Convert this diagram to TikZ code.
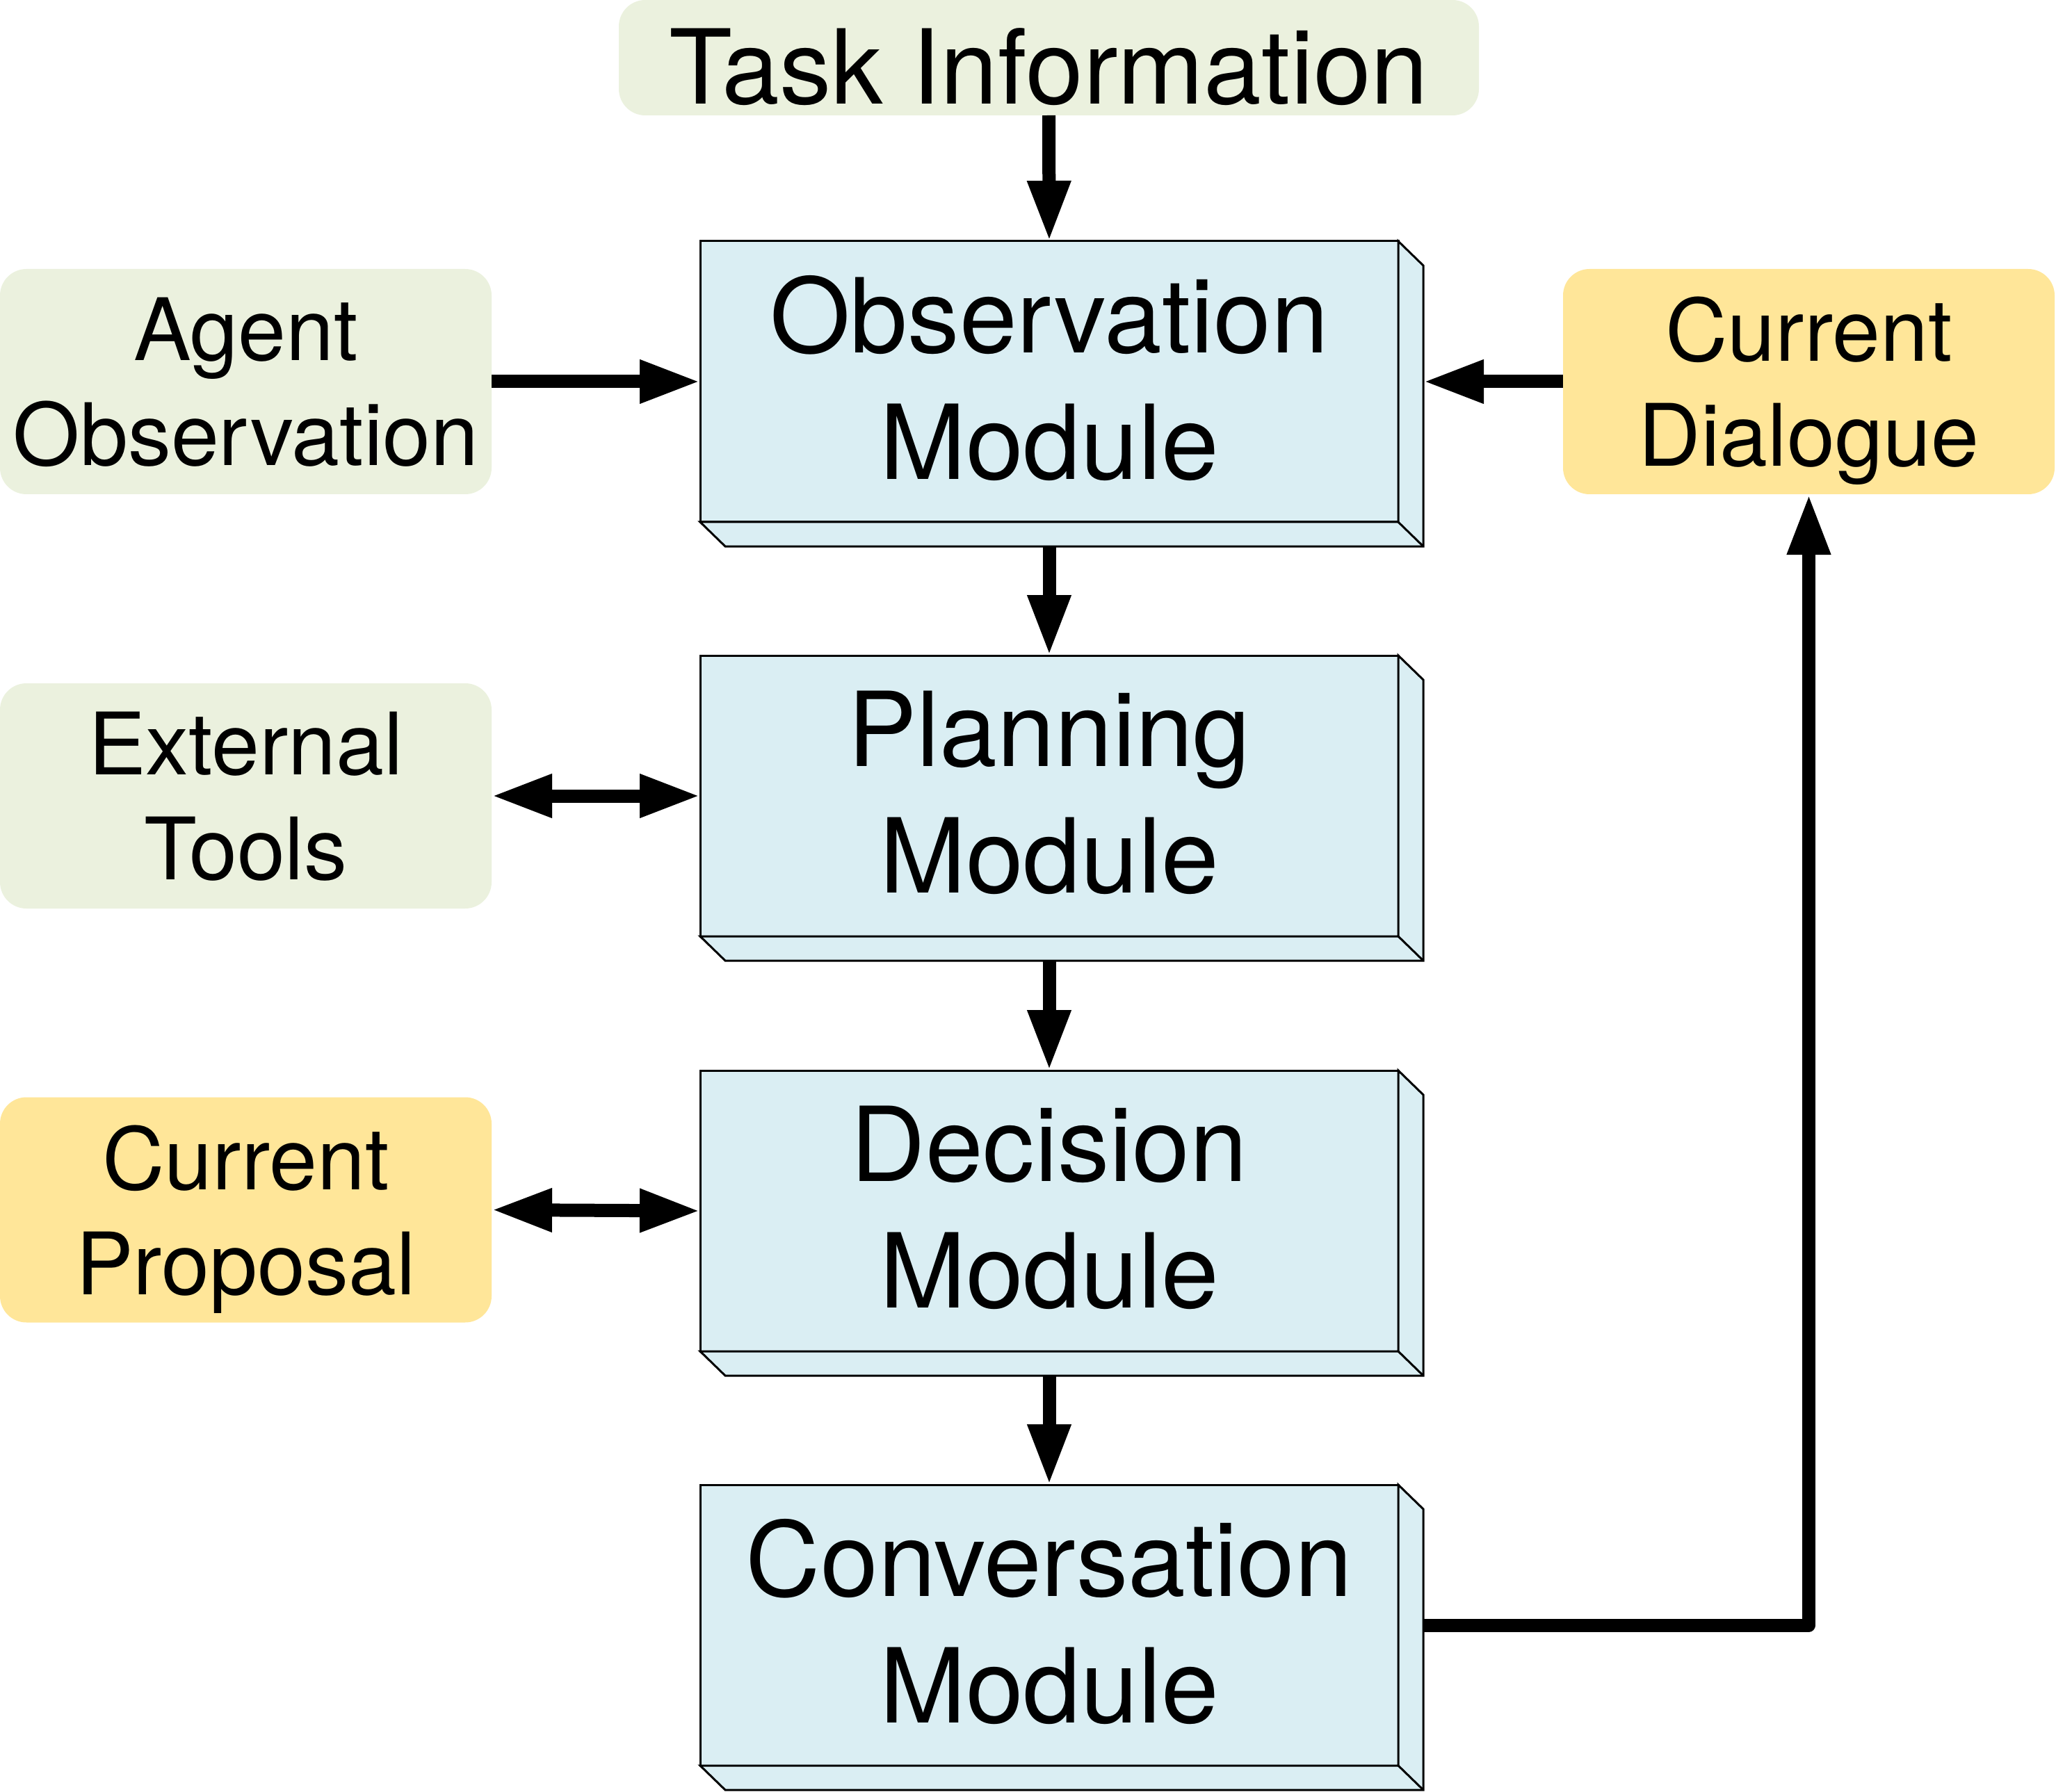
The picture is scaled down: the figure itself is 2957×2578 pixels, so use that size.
\documentclass[tikz,border=0pt]{standalone}
\usepackage{fontspec}
\setmainfont{TeX Gyre Heros}
\usetikzlibrary{arrows.meta,calc}
\definecolor{modblue}{HTML}{DAEEF3}
\definecolor{ingreen}{HTML}{EBF1DE}
\definecolor{inyellow}{HTML}{FFE699}
\tikzset{
  module/.style={rectangle, draw, fill=modblue, line width=0.75pt, outer sep=0pt,
    minimum width=251pt, minimum height=101pt, inner sep=0pt, align=center,
    text depth=2.8pt, font=\fontsize{37.2}{45.5}\selectfont},
  inbox/.style={rectangle, rounded corners=9.5pt, outer sep=0pt, inner sep=0pt,
    minimum width=176.75pt, minimum height=81pt, align=center, text depth=0pt,
    font=\fontsize{31}{37.8}\selectfont},
  conn/.style={line width=4.75pt, -{Triangle[length=21.75pt,width=14.5pt]}},
  dconn/.style={line width=4.75pt, {Triangle[length=21.75pt,width=14.5pt]}-{Triangle[length=21.75pt,width=14.5pt]}},
  depthface/.style={draw, fill=modblue, line width=0.75pt, line join=miter}
}
\newcommand{\extrude}[1]{%
  \filldraw[depthface] (#1.north east) -- ++(36,35) -- ($(#1.south east)+(36,35)$)
    -- ($(#1.south west)+(36,35)$) -- (#1.south west) -- (#1.south east) -- cycle;
  \draw[line width=0.75pt] (#1.south east) -- ++(36,35);
}
\begin{document}
\begin{tikzpicture}[x=0.25pt, y=-0.25pt]
\useasboundingbox (0,0) rectangle (2957,2578);
% modules
\node[module] (obs) at (1509,549) {Observation\\Module};
\node[module] (plan) at (1509,1145) {Planning\\Module};
\node[module] (dec) at (1509,1742) {Decision\\Module};
\node[module] (conv) at (1509,2338) {Conversation\\Module};
\extrude{obs}
\extrude{plan}
\extrude{dec}
\extrude{conv}
% inputs
\node[inbox, fill=ingreen, minimum width=309.25pt, minimum height=41.5pt,
  text height=33.5pt, text depth=0pt,
  font=\fontsize{37.2}{45.5}\selectfont] (task) at (1508.5,83) {Task Information};
\node[inbox, fill=ingreen] (agent) at (353.5,549) {Agent\\Observation};
\node[inbox, fill=ingreen] (tools) at (353.5,1145) {External\\Tools};
\node[inbox, fill=inyellow] (prop) at (353.5,1740.5) {Current\\Proposal};
\node[inbox, fill=inyellow] (dia) at (2601.5,549) {Current\\Dialogue};
% connectors
\draw[conn] (task.south) -- (obs.north);
\draw[conn] (agent.east) -- (obs.west);
\draw[conn] (dia.west) -- ($(obs.east)+(36,0)$);
\draw[dconn] (tools.east) -- (plan.west);
\draw[dconn] (prop.east) -- (dec.west);
\draw[conn] ($(obs.south)+(0,35)$) -- (plan.north);
\draw[conn] ($(plan.south)+(0,35)$) -- (dec.north);
\draw[conn] ($(dec.south)+(0,35)$) -- (conv.north);
\draw[conn, line join=round] ($(conv.east)+(36,0)$) -| (dia.south);
\end{tikzpicture}
\end{document}
